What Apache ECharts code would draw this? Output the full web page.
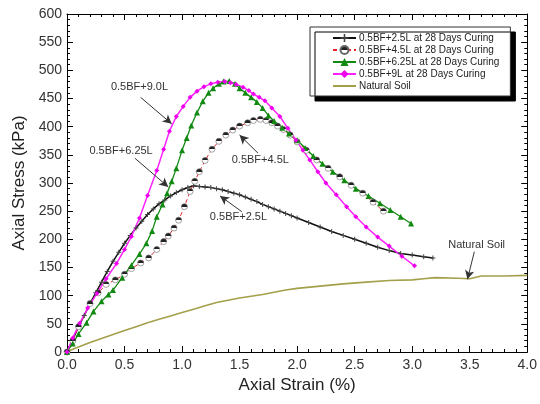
<!DOCTYPE html>
<html>
<head>
<meta charset="utf-8">
<script src="https://cdn.jsdelivr.net/npm/echarts@6/dist/echarts.min.js"></script>
<style>
  html, body { margin: 0; padding: 0; background: #fff; }
  #chart { width: 540px; height: 404px; }
</style>
</head>
<body>
<div id="chart"></div>
<script>
// strain (%) / stress (kPa) pairs
const bf25 = [[0,0],[0.05,22],[0.1,45],[0.15,65],[0.2,86],[0.25,105],[0.3,124],[0.35,143],[0.4,161],[0.45,177],
  [0.5,193],[0.55,207],[0.6,220],[0.65,232],[0.7,244],[0.75,254],[0.8,263],[0.85,270],[0.9,277],[0.95,283],
  [1.0,288],[1.05,292],[1.1,295],[1.15,294],[1.2,293],[1.25,292],[1.3,290],[1.35,288],[1.4,285],[1.45,282],
  [1.5,279],[1.55,275],[1.6,271],[1.65,267],[1.7,262],[1.75,258],[1.8,254],[1.85,250],[1.9,246],[1.95,242],
  [2.0,238],[2.1,230],[2.2,222],[2.3,214],[2.4,207],[2.5,200],[2.6,193],[2.7,186],[2.8,180],[2.9,175],
  [3.0,172],[3.1,169],[3.18,167]];
const bf45 = [[0,0],[0.05,20],[0.1,45],[0.2,86],[0.27,105],[0.34,120],[0.42,128],[0.5,138],[0.56,148],[0.64,158],
  [0.71,167],[0.78,182],[0.84,196],[0.88,206],[0.93,220],[0.97,234],[1.02,258],[1.07,285],[1.11,303],[1.15,320],
  [1.2,340],[1.26,360],[1.32,374],[1.38,385],[1.44,394],[1.5,401],[1.57,407],[1.62,411],[1.68,413],[1.73,411],
  [1.78,407],[1.83,401],[1.88,395],[1.94,385],[2.0,373],[2.08,358],[2.17,341],[2.27,326],[2.37,311],[2.47,296],
  [2.57,282],[2.66,266],[2.75,250]];
const bf625 = [[0,0],[0.05,15],[0.1,32],[0.17,52],[0.23,72],[0.3,90],[0.36,102],[0.4,110],[0.48,132],[0.56,154],
  [0.63,174],[0.69,193],[0.74,215],[0.78,240],[0.83,262],[0.87,282],[0.91,303],[0.95,326],[1.0,358],[1.04,380],
  [1.08,402],[1.13,425],[1.18,445],[1.23,460],[1.27,468],[1.32,476],[1.36,480],[1.41,481],[1.46,476],[1.5,468],
  [1.55,460],[1.6,452],[1.65,444],[1.7,433],[1.75,420],[1.8,410],[1.87,398],[1.93,388],[2.0,376],[2.07,362],
  [2.14,348],[2.22,334],[2.31,320],[2.41,305],[2.51,290],[2.62,277],[2.72,264],[2.81,252],[2.9,240],[2.99,228]];
const bf90 = [[0,0],[0.05,25],[0.11,51],[0.18,78],[0.26,104],[0.34,130],[0.43,157],[0.5,182],[0.56,205],[0.63,238],
  [0.7,278],[0.78,322],[0.84,360],[0.89,392],[0.95,418],[1.01,436],[1.07,452],[1.13,463],[1.19,471],[1.25,476],
  [1.31,479],[1.37,480],[1.42,478],[1.47,475],[1.53,470],[1.58,464],[1.62,458],[1.67,452],[1.72,446],[1.78,433],
  [1.85,418],[1.92,397],[1.99,376],[2.05,358],[2.11,341],[2.18,320],[2.25,300],[2.34,279],[2.43,258],[2.51,240],
  [2.6,222],[2.7,204],[2.8,188],[2.91,170],[3.02,153]];
const natural = [[0,0],[0.05,5],[0.1,9],[0.2,17],[0.3,24],[0.4,31],[0.5,38],[0.6,45],[0.7,52],[0.8,58],[0.9,64],
  [1.0,70],[1.1,76],[1.2,82],[1.3,88],[1.4,92],[1.5,96],[1.6,99],[1.7,102],[1.8,106],[1.9,110],[2.0,113],
  [2.2,117],[2.4,121],[2.6,124],[2.8,127],[3.0,128],[3.1,130],[3.2,132],[3.4,131],[3.5,130],[3.6,135],
  [3.8,135],[4.0,136]];

const seriesNames = ['0.5BF+2.5L at 28 Days Curing', '0.5BF+4.5L at 28 Days Curing',
  '0.5BF+6.25L at 28 Days Curing', '0.5BF+9L at 28 Days Curing', 'Natural Soil'];

// callouts: text, text position, arrow tail, arrow head (data coords)
const callouts = [
  ['0.5BF+9.0L', [0.63, 470], [0.64, 452], [0.91, 405]],
  ['0.5BF+6.25L', [0.47, 357], [0.59, 344], [0.88, 293]],
  ['0.5BF+4.5L', [1.68, 341], [1.66, 353], [1.50, 385]],
  ['0.5BF+2.5L', [1.49, 240], [1.52, 249], [1.33, 277]],
  ['Natural Soil', [3.56, 190], [3.54, 178], [3.48, 129]]
];

const font = 'Liberation Sans, Arial, sans-serif';
const halfDot = new echarts.graphic.LinearGradient(0, 0, 0, 1, [
  { offset: 0, color: '#222' }, { offset: 0.5, color: '#222' },
  { offset: 0.5, color: '#fff' }, { offset: 1, color: '#fff' }
]);
const crossPath = 'path://M4,0h2v4h4v2h-4v4h-2v-4h-4v-2h4z';

const chart = echarts.init(document.getElementById('chart'));

const axisBase = {
  min: 0,
  axisLine: { show: true, onZero: false, lineStyle: { color: '#000', width: 1 } },
  axisTick: { show: true, inside: true, length: 6, lineStyle: { color: '#000' } },
  minorTick: { show: true, splitNumber: 5, length: 3, lineStyle: { color: '#000' } },
  splitLine: { show: false }
};

chart.setOption({
  animation: false,
  grid: { left: 67, right: 12, top: 14, bottom: 52 },
  legend: {
    orient: 'vertical',
    left: 310, top: 27,
    data: seriesNames.slice(0, 4).concat([{
      name: seriesNames[4],
      itemStyle: { color: 'rgba(0,0,0,0)', borderColor: 'rgba(0,0,0,0)', borderWidth: 0 }
    }]),
    padding: [6, 11, 5, 22],
    itemGap: 2,
    itemWidth: 23,
    itemHeight: 10,
    backgroundColor: '#fff',
    borderColor: '#333',
    borderWidth: 1,
    shadowColor: '#000',
    shadowBlur: 0,
    shadowOffsetX: 5,
    shadowOffsetY: 5,
    textStyle: { fontFamily: font, fontSize: 10, color: '#222', padding: [0, 0, 0, -2] }
  },
  xAxis: [
    Object.assign({}, axisBase, {
      type: 'value', max: 4, interval: 0.5, position: 'bottom',
      name: 'Axial Strain (%)', nameLocation: 'middle', nameGap: 25,
      nameTextStyle: { fontFamily: font, fontSize: 17, color: '#222' },
      axisLabel: { fontFamily: font, fontSize: 14, color: '#333', margin: 6, formatter: v => v.toFixed(1) }
    }),
    Object.assign({}, axisBase, {
      type: 'value', max: 4, interval: 0.5, position: 'top', axisLabel: { show: false }
    })
  ],
  yAxis: [
    Object.assign({}, axisBase, {
      type: 'value', max: 600, interval: 50, position: 'left',
      name: 'Axial Stress (kPa)', nameLocation: 'middle', nameGap: 34,
      nameTextStyle: { fontFamily: font, fontSize: 17, color: '#222' },
      axisLabel: { fontFamily: font, fontSize: 14, color: '#333', margin: 5 }
    }),
    Object.assign({}, axisBase, {
      type: 'value', max: 600, interval: 50, position: 'right', axisLabel: { show: false }
    })
  ],
  series: [
    {
      name: seriesNames[0], type: 'line', data: bf25,
      symbol: crossPath, symbolSize: 5,
      lineStyle: { color: '#111', width: 1.5 },
      itemStyle: { color: '#444' }
    },
    {
      name: seriesNames[1], type: 'line', data: bf45,
      symbol: 'circle', symbolSize: 6,
      lineStyle: { color: '#e3262a', width: 1, type: [4, 3] },
      itemStyle: { color: halfDot, borderColor: '#666', borderWidth: 0.6 }
    },
    {
      name: seriesNames[2], type: 'line', data: bf625,
      symbol: 'triangle', symbolSize: 6,
      lineStyle: { color: '#128a12', width: 1.3 },
      itemStyle: { color: '#128a12' }
    },
    {
      name: seriesNames[3], type: 'line', data: bf90,
      symbol: 'diamond', symbolSize: 5,
      lineStyle: { color: '#ff22ff', width: 1.5 },
      itemStyle: { color: '#ee00ee' }
    },
    {
      name: seriesNames[4], type: 'line', data: natural,
      symbol: 'none',
      lineStyle: { color: '#a3a04a', width: 1.6 },
      itemStyle: { color: '#a3a04a' },
      markLine: {
        silent: true,
        symbol: ['none', 'arrow'],
        symbolSize: [7, 9],
        label: { show: false },
        lineStyle: { color: '#333', width: 1, type: 'solid' },
        data: callouts.map(c => [{ coord: c[2] }, { coord: c[3] }])
      },
      markPoint: {
        silent: true,
        symbol: 'circle', symbolSize: 0,
        label: { show: true, position: 'inside', fontFamily: font, fontSize: 11, color: '#333' },
        data: callouts.map(c => ({ coord: c[1], label: { formatter: c[0] } }))
      }
    }
  ]
});
</script>
</body>
</html>
